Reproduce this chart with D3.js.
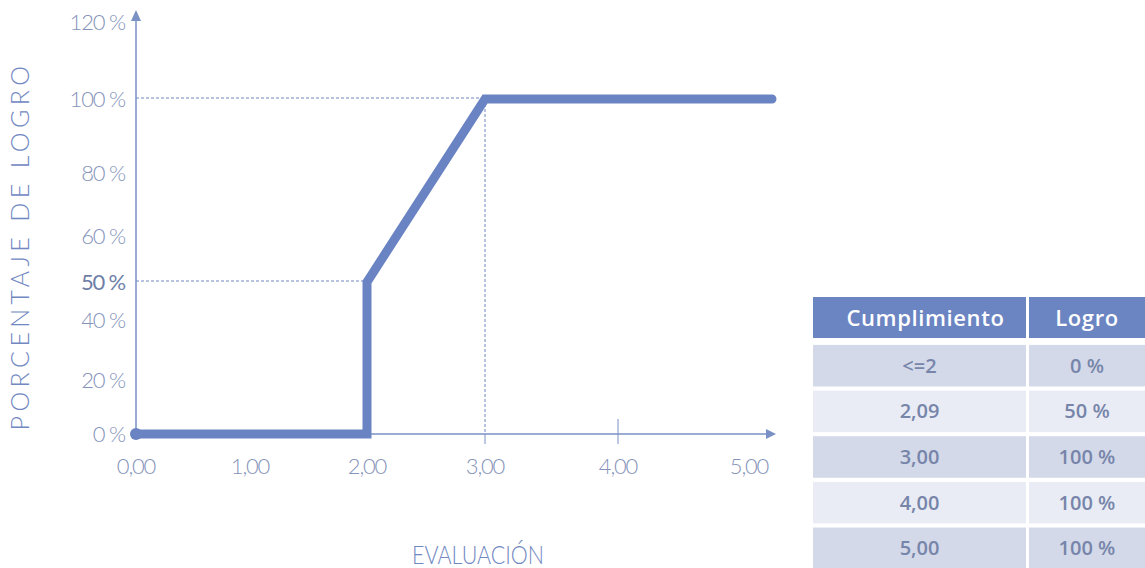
<!DOCTYPE html>
<html>
<head>
<meta charset="utf-8">
<script src="https://cdn.jsdelivr.net/npm/d3@7"></script>
<style>
  body { margin: 0; background: #fff; }
  svg { display: block; }
</style>
</head>
<body>
<div id="chart"></div>
<script>
// data
const xTicks = [0, 1, 2, 3, 4, 5];
const xTickLabels = ['0,00', '1,00', '2,00', '3,00', '4,00', '5,00'];
const yTicks = [0, 20, 40, 50, 60, 80, 100, 120];
const yTickLabels = ['0 %', '20 %', '40 %', '50 %', '60 %', '80 %', '100 %', '120 %'];

// curve: evaluacion -> logro
const curveX = [0, 2, 2, 3, 5.2];
const curveY = [0, 0, 50, 100, 100];

// guide lines (dashed)
const guideX = [2, 3];
const guideY = [50, 100];

// table
const tableHeader = ['Cumplimiento', 'Logro'];
const tableCumplimiento = ['<=2', '2,09', '3,00', '4,00', '5,00'];
const tableLogro = ['0 %', '50 %', '100 %', '100 %', '100 %'];

const W = 1145, H = 568;
const lineColor = '#6a83c3';
const axisColor = '#7a91c6';
const labelColor = '#8593ba';

const svg = d3.select('#chart').append('svg')
  .attr('width', W)
  .attr('height', H);

// the original axes are hand spaced, so use piecewise scales
const x = d3.scaleLinear()
  .domain([0, 1, 2, 3, 4, 5, 5.2])
  .range([136, 250, 367, 485, 618, 749, 772]);

const y = d3.scaleLinear()
  .domain([0, 20, 40, 50, 60, 80, 100, 120])
  .range([434, 380, 320, 282, 236, 173, 99, 22]);

// dashed guides
const dash = svg.append('g')
  .attr('stroke', '#6f86c0')
  .attr('stroke-width', 1)
  .attr('stroke-dasharray', '3,2');

// horizontal guides: from y axis to the curve
dash.selectAll('line.h')
  .data(guideY)
  .enter()
  .append('line')
    .attr('class', 'h')
    .attr('x1', x(0))
    .attr('x2', (d, i) => x(guideX[i]))
    .attr('y1', d => y(d) - 1)
    .attr('y2', d => y(d) - 1);

// vertical guide at 3,00
dash.append('line')
  .attr('x1', x(3))
  .attr('x2', x(3))
  .attr('y1', y(100))
  .attr('y2', y(0));

// axes
const axes = svg.append('g')
  .attr('stroke', axisColor)
  .attr('stroke-width', 1.5)
  .attr('fill', axisColor);

axes.append('line')
  .attr('x1', x(0)).attr('x2', x(5.2) - 6)
  .attr('y1', y(0)).attr('y2', y(0));
axes.append('path')
  .attr('stroke', 'none')
  .attr('d', `M${x(5.2) + 4},${y(0)} l-10,-5 l0,10 z`);

axes.append('line')
  .attr('x1', x(0)).attr('x2', x(0))
  .attr('y1', y(0)).attr('y2', 20);
axes.append('path')
  .attr('stroke', 'none')
  .attr('d', `M${x(0)},10 l-5,11 l10,0 z`);

// small ticks at 3,00 and 4,00
axes.selectAll('line.tick')
  .data([3, 4])
  .enter()
  .append('line')
    .attr('class', 'tick')
    .attr('stroke-width', 1)
    .attr('x1', d => x(d)).attr('x2', d => x(d))
    .attr('y1', d => d === 4 ? y(0) - 15 : y(0))
    .attr('y2', y(0) + 10);

// tick labels
svg.append('g')
  .selectAll('text')
  .data(xTicks)
  .enter()
  .append('text')
    .attr('x', d => x(d))
    .attr('y', y(0) + 40)
    .attr('text-anchor', 'middle')
    .attr('font-family', 'Lato, sans-serif')
    .attr('font-weight', 300)
    .attr('font-size', 22)
    .attr('fill', labelColor)
    .attr('letter-spacing', -1.2)
    .text((d, i) => xTickLabels[i]);

svg.append('g')
  .selectAll('text')
  .data(yTicks)
  .enter()
  .append('text')
    .attr('x', 125)
    .attr('y', d => y(d) + 8)
    .attr('text-anchor', 'end')
    .attr('font-family', 'Lato, sans-serif')
    .attr('font-weight', d => d === 50 ? 400 : 300)
    .attr('font-size', 22)
    .attr('fill', d => d === 50 ? '#6f7fa8' : labelColor)
    .attr('letter-spacing', -1.2)
    .text((d, i) => yTickLabels[i]);

// axis titles
svg.append('text')
  .attr('transform', 'translate(29,246) rotate(-90)')
  .attr('text-anchor', 'middle')
  .attr('font-family', 'Lato, sans-serif')
  .attr('font-weight', 300)
  .attr('font-size', 25)
  .attr('letter-spacing', 4.4)
  .attr('fill', '#7288c2')
  .text('PORCENTAJE DE LOGRO');

svg.append('text')
  .attr('transform', 'translate(478,564) scale(0.86,1)')
  .attr('text-anchor', 'middle')
  .attr('font-family', 'Lato, sans-serif')
  .attr('font-weight', 300)
  .attr('font-size', 25)
  .attr('fill', '#7288c2')
  .text('EVALUACIÓN');

// the curve
const curve = d3.line()
  .x((d, i) => x(curveX[i]))
  .y(d => y(d));

svg.append('path')
  .datum(curveY)
  .attr('fill', 'none')
  .attr('stroke', lineColor)
  .attr('stroke-width', 9)
  .attr('stroke-linecap', 'round')
  .attr('stroke-linejoin', 'miter')
  .attr('d', curve);

svg.append('circle')
  .attr('cx', x(0))
  .attr('cy', y(0))
  .attr('r', 6)
  .attr('fill', lineColor);

// table
const colX = d3.scaleOrdinal()
  .domain([0, 1])
  .range([813, 1029]);
const colW = [213, 120];

const rowY = d3.scaleBand()
  .domain(d3.range(tableCumplimiento.length))
  .range([344, 570])
  .paddingInner(0.09)
  .paddingOuter(0.02);

const table = svg.append('g').attr('font-family', '"Open Sans", sans-serif');

const head = table.append('g');
head.selectAll('rect')
  .data(tableHeader)
  .enter()
  .append('rect')
    .attr('x', (d, i) => colX(i))
    .attr('y', 297)
    .attr('width', (d, i) => colW[i])
    .attr('height', 41)
    .attr('fill', '#6b84c2');
head.selectAll('text')
  .data(tableHeader)
  .enter()
  .append('text')
    .attr('x', (d, i) => i === 0 ? colX(i) + colW[i] / 2 + 6 : colX(i) + 58)
    .attr('y', 326)
    .attr('text-anchor', 'middle')
    .attr('font-weight', 600)
    .attr('font-size', 22)
    .attr('letter-spacing', 0.6)
    .attr('fill', '#fff')
    .text(d => d);

const rows = table.selectAll('g.row')
  .data(tableCumplimiento)
  .enter()
  .append('g')
    .attr('class', 'row')
    .attr('transform', (d, i) => `translate(0,${rowY(i)})`);

rows.each(function(d, i) {
  const g = d3.select(this);
  const fill = i % 2 === 0 ? '#d3d9e8' : '#e9ecf4';
  const cells = [d, tableLogro[i]];
  cells.forEach((c, j) => {
    g.append('rect')
      .attr('x', colX(j))
      .attr('y', 0)
      .attr('width', colW[j])
      .attr('height', rowY.bandwidth())
      .attr('fill', fill);
    g.append('text')
      .attr('x', j === 0 ? colX(j) + colW[j] / 2 : colX(j) + 58)
      .attr('y', rowY.bandwidth() / 2 + 7)
      .attr('text-anchor', 'middle')
      .attr('font-weight', 600)
      .attr('font-size', 20)
      .attr('fill', '#7785aa')
      .text(c);
  });
});
</script>
</body>
</html>
